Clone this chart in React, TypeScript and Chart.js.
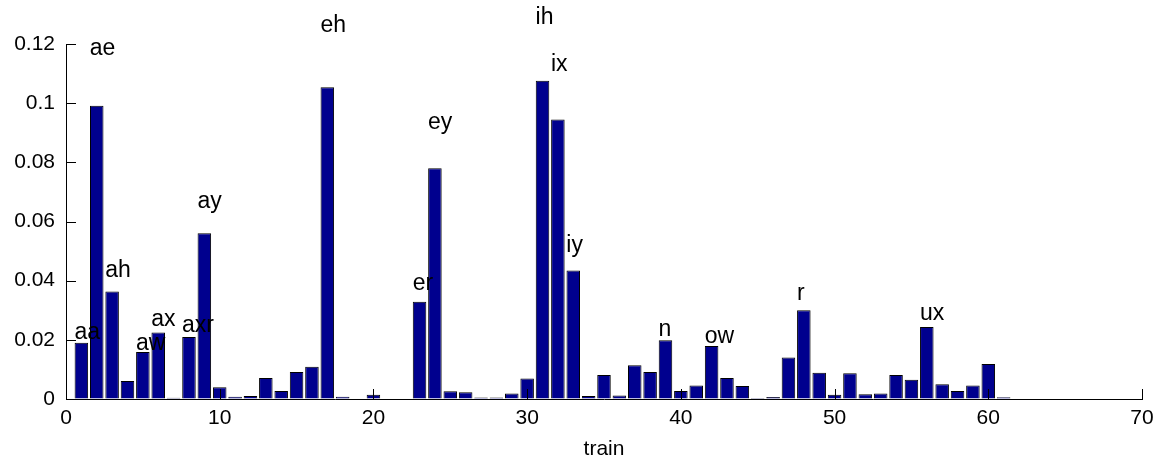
import React, { useEffect, useRef } from "react";
import { Chart, registerables } from "chart.js";

Chart.register(...registerables);

// bar heights for positions 1..61
const values: number[] = [
  0.019, 0.0991, 0.0363, 0.0061, 0.0159, 0.0225, 0.0004, 0.021, 0.056, 0.004,
  0.0008, 0.001, 0.0071, 0.0027, 0.0091, 0.0109, 0.1054, 0.0008, 0.0002, 0.0014,
  0.0002, 0.0002, 0.0329, 0.078, 0.0026, 0.0023, 0.0005, 0.0005, 0.0019, 0.0069,
  0.1076, 0.0945, 0.0434, 0.001, 0.0081, 0.0012, 0.0114, 0.0091, 0.0199, 0.0027,
  0.0046, 0.0179, 0.0071, 0.0044, 0.0003, 0.0007, 0.014, 0.030, 0.0089, 0.0014,
  0.0087, 0.0016, 0.0019, 0.0081, 0.0065, 0.0243, 0.005, 0.0027, 0.0046, 0.0118,
  0.0006,
];

const labelPositions: number[] = [1, 2, 3, 5, 6, 8, 9, 17, 23, 24, 31, 32, 33, 39, 42, 48, 56];
const labelNames: string[] = ["aa", "ae", "ah", "aw", "ax", "axr", "ay", "eh", "er", "ey", "ih", "ix", "iy", "n", "ow", "r", "ux"];

const xTicks: number[] = [0, 10, 20, 30, 40, 50, 60, 70];
const yTicks: number[] = [0, 0.02, 0.04, 0.06, 0.08, 0.1, 0.12];
const xTitle = "train";

const FONT = '"Liberation Sans", Arial, sans-serif';

export default function App() {
  const ref = useRef<HTMLCanvasElement | null>(null);

  useEffect(() => {
    const canvas = ref.current;
    if (!canvas) return;

    const decorPlugin = {
      id: "decor",
      afterDraw(chart: any) {
        const ctx = chart.ctx;
        const xs = chart.scales.x;
        const ys = chart.scales.y;
        const { left, bottom } = chart.chartArea;
        ctx.save();
        ctx.strokeStyle = "#000";
        ctx.lineWidth = 1;
        ctx.beginPath();
        for (const t of yTicks) {
          const py = Math.round(ys.getPixelForValue(t)) + 0.5;
          ctx.moveTo(left, py);
          ctx.lineTo(left + 10, py);
        }
        for (const t of xTicks) {
          const px = Math.round(xs.getPixelForValue(t)) + 0.5;
          ctx.moveTo(px, bottom);
          ctx.lineTo(px, bottom - 10);
        }
        ctx.stroke();
        ctx.fillStyle = "#000";
        ctx.font = `23px ${FONT}`;
        ctx.textAlign = "left";
        ctx.textBaseline = "middle";
        labelPositions.forEach((p, i) => {
          const v = values[p - 1];
          const px = xs.getPixelForValue(p - 0.45);
          const py = ys.getPixelForValue(v * 1.2) + 1;
          ctx.fillText(labelNames[i], px, py);
        });
        ctx.restore();
      },
    };

    const chart = new Chart(canvas, {
      type: "bar",
      data: {
        datasets: [
          {
            data: values.map((v, i) => ({ x: i + 1, y: v })),
            backgroundColor: "#00008E",
            borderColor: "#000",
            borderWidth: 1,
            inflateAmount: 0,
            categoryPercentage: 1,
            barPercentage: 0.88,
          } as any,
        ],
      },
      options: {
        animation: false,
        responsive: true,
        maintainAspectRatio: false,
        layout: { padding: { top: 44, right: 23, left: 0, bottom: 0 } },
        plugins: { legend: { display: false }, tooltip: { enabled: false }, title: { display: false } },
        scales: {
          x: {
            type: "linear",
            min: 0,
            max: 70,
            offset: false,
            afterFit: (s: any) => {
              s.height = 64;
            },
            afterBuildTicks: (s: any) => {
              s.ticks = xTicks.map((v) => ({ value: v }));
            },
            grid: { display: true, drawOnChartArea: false, drawTicks: false, offset: false },
            border: { display: true, color: "#000", width: 1 },
            ticks: {
              color: "#000",
              padding: 7,
              maxRotation: 0,
              font: { family: FONT, size: 21 },
              callback: (v: any) => String(v),
            },
            title: {
              display: true,
              text: xTitle,
              color: "#000",
              font: { family: FONT, size: 21 },
              padding: { top: 0, bottom: 1 },
            },
          },
          y: {
            type: "linear",
            min: 0,
            max: 0.12,
            afterFit: (s: any) => {
              s.width = 66;
            },
            afterBuildTicks: (s: any) => {
              s.ticks = yTicks.map((v) => ({ value: v }));
            },
            grid: { display: true, drawOnChartArea: false, drawTicks: false },
            border: { display: true, color: "#000", width: 1 },
            ticks: {
              color: "#000",
              padding: 11,
              font: { family: FONT, size: 21 },
              callback: (v: any) => String(Number(Number(v).toFixed(2))),
            },
          },
        },
      },
      plugins: [decorPlugin],
    });

    return () => chart.destroy();
  }, []);

  return (
    <div style={{ position: "fixed", left: 0, top: 0, width: 1165, height: 463, background: "#fff" }}>
      <canvas ref={ref} />
    </div>
  );
}
